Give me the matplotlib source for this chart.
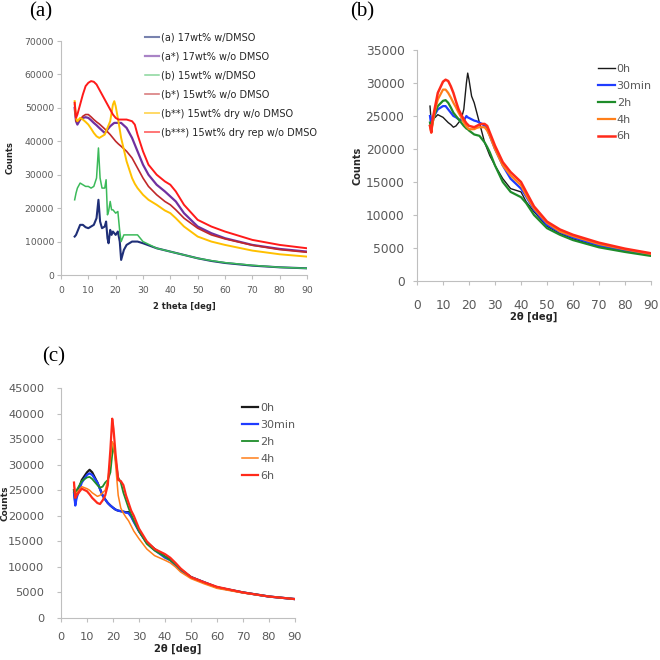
import numpy as np
import matplotlib

matplotlib.use("Agg")
import matplotlib.pyplot as plt

plt.rcParams["font.family"] = ["DejaVu Sans"]

# ---- panel (a) ----
a_x = [5, 5.5, 6, 7, 8, 9, 10, 11, 12, 13, 13.7, 14.3, 15, 16, 16.5, 17, 17.4, 18, 18.5, 19, 20, 20.8, 21.5, 22,
       23, 24, 26, 28, 30, 35, 40, 45, 50, 55, 60, 70, 80, 90]
a_17_dmso = [11500, 12000, 13000, 15000, 15000, 14300, 14000, 14500, 15000, 17000, 22500, 16000, 14000, 14500,
             16000, 11000, 9500, 13500, 12000, 13000, 12000, 13000, 10000, 4500,
             7500, 9000, 10000, 10000, 9500, 8000, 7000, 6000, 5000, 4200, 3600, 2800, 2300, 2000]
a_15_dmso = [22500, 24500, 26000, 27500, 27000, 26500, 26500, 26000, 26500, 29000, 38000, 29000, 26000, 26000,
             28500, 18000, 19000, 22000, 19500, 19500, 18500, 19000, 13000, 10000,
             12000, 12000, 12000, 12000, 10000, 8000, 7000, 6000, 5000, 4300, 3700, 2900, 2300, 2000]

a_x2 = [5, 5.5, 6, 7, 8, 9, 10, 11, 12, 13, 14, 16, 18, 19, 19.5, 20, 21, 22, 24, 26, 27, 28, 30, 32, 35, 38, 40,
        42, 45, 50, 55, 60, 70, 80, 90]
a_17_nodmso = [50000, 46000, 45000, 46500, 47000, 47200, 47000, 46300, 45500, 44800, 44000, 42500, 44500, 45200,
               45500, 45500, 45500, 45500, 44000, 41000, 39000, 37000, 33000, 30000, 27000, 25000, 23500,
               22000, 18500, 14500, 12500, 11000, 9000, 7800, 7000]
a_15_nodmso = [51000, 46000, 46000, 46500, 47500, 48000, 48000, 47300, 46500, 45800, 45200, 43700, 42000, 41000,
               40500, 40000, 39200, 38500, 37000, 35000, 33500, 32000, 29000, 26500, 24000, 22000, 21000,
               19500, 17000, 14000, 12000, 10800, 8900, 7600, 6800]
a_15_dry = [52000, 47000, 46000, 47000, 46500, 45800, 45000, 43800, 42500, 41500, 41000, 42000, 46000, 51000,
            52000, 50500, 46000, 41000, 34000, 29000, 27300, 26000, 24000, 22500, 21000, 19300, 18500,
            17000, 14500, 11500, 10000, 9000, 7300, 6200, 5500]
a_15_dryrep = [51500, 47000, 48000, 51000, 54000, 56500, 57500, 58000, 57800, 57000, 55500, 52500, 49500, 48000,
               47500, 47000, 46500, 46500, 46500, 46000, 45000, 42000, 37000, 33000, 30000, 28000, 27000,
               25000, 21000, 16500, 14500, 13000, 10500, 9000, 8000]

# ---- panel (b) ----
b_x = [5, 5.5, 6, 7, 8, 10, 11, 12, 13, 14, 15, 16, 17, 18, 19, 19.5, 20, 21, 22, 23, 24, 25, 26, 27, 28, 30,
       33, 36, 40, 42, 45, 50, 55, 60, 70, 80, 90]
b_0h = [26500, 24000, 24500, 24800, 25200, 24800, 24400, 24000, 23700, 23300, 23500, 24000, 24500, 26000, 30000,
        31500, 30500, 28000, 27000, 25500, 24000, 22500, 21000, 20000, 19000, 17500,
        15500, 14000, 13500, 12000, 10500, 8300, 7200, 6400, 5200, 4500, 3900]
b_30min = [25000, 23500, 24500, 25300, 26000, 26500, 26500, 26000, 25500, 25000, 24800, 24500, 24400, 24300,
           25000, 24800, 24700, 24500, 24300, 24200, 24000, 23800, 23500, 23000, 22000, 20000,
           17500, 15500, 14000, 12800, 10800, 8500, 7400, 6600, 5400, 4600, 4000]
b_2h = [24000, 23000, 24000, 25500, 26500, 27300, 27400, 27000, 26300, 25500, 25000, 24500, 24000, 23500, 23100,
        23000, 22800, 22500, 22200, 22100, 22000, 21500, 21000, 20300, 19500, 17500,
        15000, 13500, 12700, 11800, 10000, 8000, 7000, 6200, 5100, 4400, 3800]
b_4h = [23500, 22500, 24000, 26000, 27500, 29000, 29000, 28500, 27800, 27000, 26300, 25500, 24800, 24000, 23400,
        23200, 23000, 23000, 23000, 23200, 23300, 23300, 23300, 22800, 22000, 20000,
        17500, 16000, 14500, 13000, 11000, 8800, 7500, 6800, 5600, 4800, 4100]
b_6h = [23500, 22500, 24500, 26500, 28500, 30200, 30500, 30300, 29500, 28500, 27200, 26000, 25200, 24500, 23900,
        23700, 23500, 23400, 23300, 23500, 23700, 23800, 23800, 23500, 22500, 20500,
        18000, 16500, 15000, 13500, 11300, 9000, 7800, 7000, 5800, 4900, 4200]

# ---- panel (c) ----
c_x = [5, 5.5, 6, 8, 10, 11, 12, 14, 15, 16, 17, 18, 19, 19.7, 20.2, 21, 22, 23, 24, 25, 26, 27, 28, 30, 33, 36,
       40, 42, 44, 46, 50, 55, 60, 70, 80, 90]
c_0h = [25000, 22500, 24000, 27000, 28500, 29000, 28500, 26500, 25300, 24000, 23200, 22500, 22000, 21700, 21500,
        21200, 21000, 20900, 20800, 20700, 20700, 20000, 19000, 17000, 14800, 13500,
        12000, 11500, 10500, 9500, 8000, 7000, 6000, 5000, 4200, 3700]
c_30min = [24500, 22000, 23500, 26500, 28000, 28300, 28000, 26500, 25200, 24000, 23200, 22500, 22000, 21700,
           21500, 21200, 21000, 20900, 20800, 20600, 20500, 19800, 18800, 17000, 14700, 13300,
           11800, 11300, 10300, 9300, 8000, 7000, 6000, 5000, 4200, 3700]
c_2h = [25000, 23500, 25000, 26800, 27500, 27600, 27200, 26000, 25500, 25700, 26500, 27000, 28500, 32000, 34000,
        31000, 27500, 26500, 24500, 23000, 21500, 20200, 19000, 17000, 14500, 13200,
        12000, 11300, 10500, 9500, 8000, 6900, 6000, 5000, 4200, 3700]
c_4h = [26000, 24500, 24500, 25700, 25300, 25000, 24500, 23800, 24000, 24500, 25000, 27000, 31000, 34500, 34000,
        30000, 24000, 21500, 20500, 19700, 19000, 18000, 17000, 15500, 13500, 12200,
        11300, 10800, 10000, 9000, 7700, 6700, 5800, 4900, 4200, 3700]
c_6h = [26500, 23500, 24000, 25300, 24800, 24200, 23500, 22500, 22300, 23000, 24000, 26000, 33000, 39000, 37000,
        32000, 27000, 26800, 26000, 24000, 22500, 21000, 20000, 17500, 15000, 13500,
        12500, 11800, 10800, 9700, 8000, 7000, 6100, 5000, 4200, 3700]

W = 660.0
GRAY = "#595959"
DARK = "#262626"


def add_panel(left, top, right, bottom, fs, xpad, ypad):
    ax = fig.add_axes([left / W, 1 - bottom / W, (right - left) / W, (bottom - top) / W])
    for s in ["top", "right"]:
        ax.spines[s].set_visible(False)
    for s in ["left", "bottom"]:
        ax.spines[s].set_color("#bfbfbf")
        ax.spines[s].set_linewidth(0.8)
    ax.tick_params(axis="both", colors="#bfbfbf", labelcolor=GRAY, length=3, width=0.8, labelsize=fs)
    ax.tick_params(axis="x", pad=xpad)
    ax.tick_params(axis="y", pad=ypad)
    ax.set_xlim(0, 90)
    ax.set_xticks(range(0, 91, 10))
    return ax


def add_legend(ax, fs, x, y, spacing, hl, color):
    leg = ax.legend(loc="upper left", bbox_to_anchor=(x, y), frameon=False, fontsize=fs,
                    handlelength=hl, handletextpad=0.15, labelspacing=spacing, borderaxespad=0, borderpad=0)
    for t in leg.get_texts():
        t.set_color(color)
    return leg


fig = plt.figure(figsize=(6.6, 6.6), dpi=100)

# (a)
ax = add_panel(61, 41, 307, 275, 6.7, 5, 2)
ax.plot(a_x, a_17_dmso, color="#1f2f78", lw=1.5, label="(a) 17wt% w/DMSO")
ax.plot(a_x2, a_17_nodmso, color="#7030a0", lw=1.6, label="(a*) 17wt% w/o DMSO")
ax.plot(a_x, a_15_dmso, color="#3cba5a", lw=1.1, label="(b) 15wt% w/DMSO")
ax.plot(a_x2, a_15_nodmso, color="#c0282a", lw=1.2, label="(b*) 15wt% w/o DMSO")
ax.plot(a_x2, a_15_dry, color="#ffc000", lw=1.4, label="(b**) 15wt% dry w/o DMSO")
ax.plot(a_x2, a_15_dryrep, color="#ff1a1a", lw=1.4, label="(b***) 15wt% dry rep w/o DMSO")
ax.set_ylim(0, 70000)
ax.set_yticks(range(0, 70001, 10000))
ax.set_xlabel("2 theta [deg]", fontsize=6, fontweight="bold", color=DARK, labelpad=5)
ax.set_ylabel("Counts", fontsize=6, fontweight="bold", color=DARK)
ax.yaxis.set_label_coords(-0.187, 0.5)
leg = add_legend(ax, 7, 0.34, 1.035, 0.92, 1.5, DARK)
for h in leg.get_lines():
    h.set_alpha(0.6)
fig.text(41 / W, 1 - 12 / W, "(a)", fontsize=15, family="Liberation Serif", ha="center", va="center")

# (b)
ax = add_panel(417, 50, 651, 281, 8.8, 10, 6)
ax.plot(b_x, b_0h, color="#1a1a1a", lw=1.0, label="0h")
ax.plot(b_x, b_30min, color="#1f3cff", lw=1.6, label="30min")
ax.plot(b_x, b_2h, color="#1e8c2a", lw=1.6, label="2h")
ax.plot(b_x, b_4h, color="#ff7f1a", lw=1.6, label="4h")
ax.plot(b_x, b_6h, color="#ff2a1a", lw=1.8, label="6h")
ax.set_ylim(0, 35000)
ax.set_yticks(range(0, 35001, 5000))
ax.set_xlabel("2θ [deg]", fontsize=7.2, fontweight="bold", color=DARK, labelpad=0)
ax.set_ylabel("Counts", fontsize=7, fontweight="bold", color=DARK)
ax.yaxis.set_label_coords(-0.233, 0.5)
add_legend(ax, 8, 0.775, 0.94, 0.62, 1.5, GRAY)
fig.text(362 / W, 1 - 12 / W, "(b)", fontsize=15, family="Liberation Serif", ha="center", va="center")

# (c)
ax = add_panel(61, 388, 295, 618, 8.2, 7, 9)
ax.plot(c_x, c_0h, color="#1a1a1a", lw=1.6, label="0h")
ax.plot(c_x, c_30min, color="#1f3cff", lw=1.6, label="30min")
ax.plot(c_x, c_2h, color="#1e8c2a", lw=1.3, label="2h")
ax.plot(c_x, c_4h, color="#ff7f1a", lw=1.1, label="4h")
ax.plot(c_x, c_6h, color="#ff2a1a", lw=1.6, label="6h")
ax.set_ylim(0, 45000)
ax.set_yticks(range(0, 45001, 5000))
ax.set_xlabel("2θ [deg]", fontsize=7.2, fontweight="bold", color=DARK, labelpad=1.5)
ax.set_ylabel("Counts", fontsize=6.5, fontweight="bold", color=DARK)
ax.yaxis.set_label_coords(-0.222, 0.5)
add_legend(ax, 8, 0.775, 0.935, 0.62, 1.45, GRAY)
fig.text(54 / W, 1 - 357 / W, "(c)", fontsize=15, family="Liberation Serif", ha="center", va="center")

fig.savefig("out.png", dpi=100)
